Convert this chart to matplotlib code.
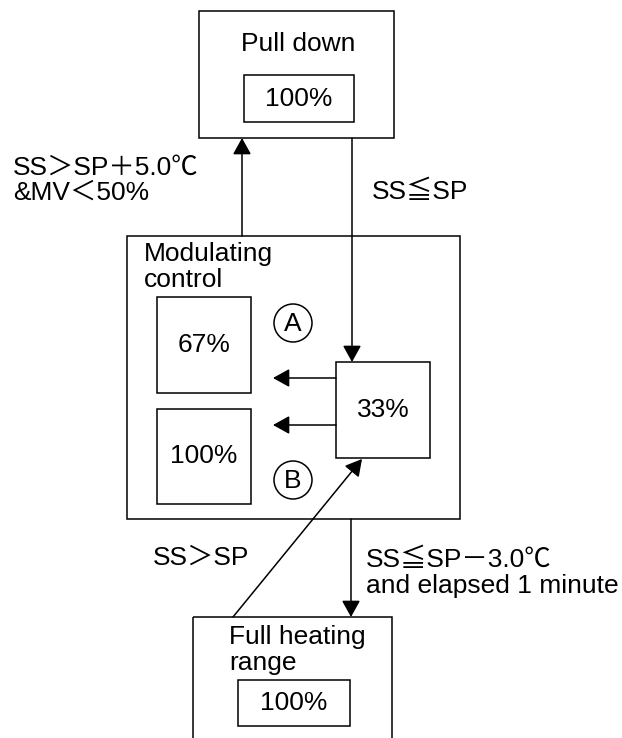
import matplotlib
matplotlib.use("Agg")
import matplotlib.pyplot as plt
from matplotlib.patches import Rectangle, Circle

plt.rcParams['font.family'] = ['Liberation Sans', 'Noto Sans CJK JP', 'DejaVu Sans']

# diagram content
state_titles = ["Pull down", "Modulating\ncontrol", "Full heating\nrange"]
state_values = ["100%", "67%", "100%", "33%", "100%"]
step_labels = ["A", "B"]
transition_labels = ["SS＞SP＋5.0℃\n&MV＜50%", "SS≦SP", "SS＞SP",
                     "SS≦SP－3.0℃\nand elapsed 1 minute"]

W, H = 622, 738
fig = plt.figure(figsize=(W / 100, H / 100), dpi=100)
ax = fig.add_axes([0, 0, 1, 1])
ax.set_xlim(0, W)
ax.set_ylim(H, 0)
ax.axis('off')

LW = 1.1
FS = 19
LS = 1.08


def box(x0, y0, x1, y1):
    ax.add_patch(Rectangle((x0, y0), x1 - x0, y1 - y0, fill=False,
                           lw=LW, ec='black'))


def arrow(p0, p1):
    ax.annotate('', xy=p1, xytext=p0,
                arrowprops=dict(arrowstyle='-|>,head_length=0.36,head_width=0.2',
                                mutation_scale=28, lw=LW, color='black',
                                shrinkA=0, shrinkB=0))


# Pull down
box(199, 11, 394, 138)
ax.text(298, 44, state_titles[0], fontsize=FS, ha='center', va='center')
box(244, 75, 354, 122)
ax.text(299, 99, state_values[0], fontsize=FS, ha='center', va='center')

# Modulating control
box(127, 236, 460, 519)
ax.text(144, 267, state_titles[1], fontsize=FS, ha='left', va='center',
        linespacing=LS)
box(157, 297, 251, 393)
ax.text(204, 345, state_values[1], fontsize=FS, ha='center', va='center')
box(157, 409, 251, 504)
ax.text(204, 456, state_values[2], fontsize=FS, ha='center', va='center')
box(336, 362, 430, 458)
ax.text(383, 410, state_values[3], fontsize=FS, ha='center', va='center')

for (cx, cy), lab in zip([(293, 323), (293, 480)], step_labels):
    ax.add_patch(Circle((cx, cy), 19, fill=False, lw=LW, ec='black'))
    ax.text(cx, cy + 1, lab, fontsize=FS, ha='center', va='center')

arrow((336, 378), (273, 378))
arrow((336, 425), (273, 425))

# Full heating range
box(193, 617, 392, 760)
ax.text(229, 650, state_titles[2], fontsize=FS, ha='left', va='center',
        linespacing=LS)
box(238, 680, 350, 726)
ax.text(294, 703, state_values[4], fontsize=FS, ha='center', va='center')

# transitions
arrow((242, 236), (242, 138))
arrow((352, 138), (352, 362))
arrow((233, 617), (362, 459))
arrow((351, 519), (351, 617))

ax.text(13, 180, transition_labels[0], fontsize=FS, ha='left', va='center',
        linespacing=LS)
ax.text(372, 192, transition_labels[1], fontsize=FS, ha='left', va='center')
ax.text(153, 558, transition_labels[2], fontsize=FS, ha='left', va='center')
ax.text(366, 573, transition_labels[3], fontsize=FS, ha='left', va='center',
        linespacing=LS)

fig.savefig("out.png", dpi=100, facecolor='white')
